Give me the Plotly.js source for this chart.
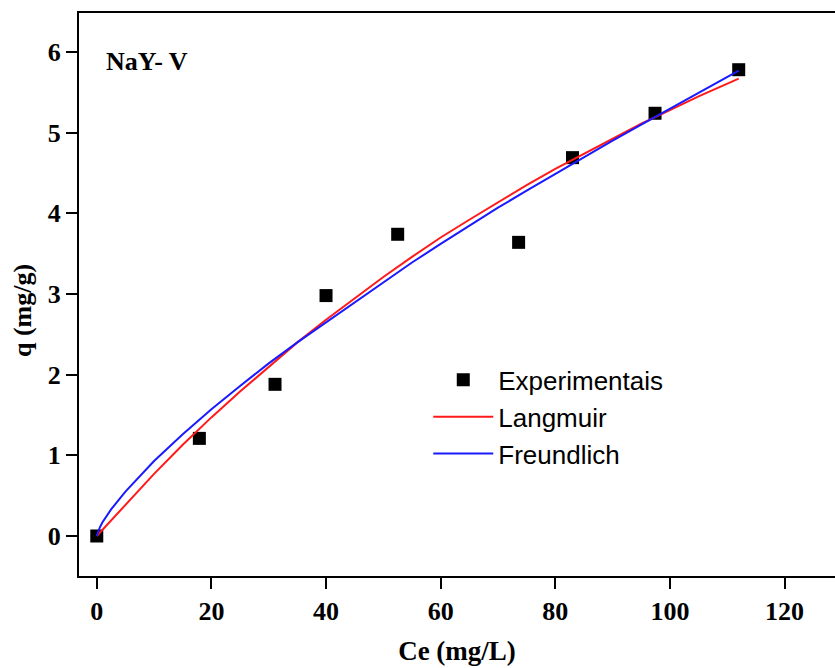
<!DOCTYPE html>
<html>
<head>
<meta charset="utf-8">
<script src="https://cdn.plot.ly/plotly-3.0.1.min.js"></script>
<style>html,body{margin:0;padding:0;background:#fff;}#chart{width:835px;height:668px;}</style>
</head>
<body>
<div id="chart"></div>
<script>
// Experimental points
const expCe = [0, 17.9, 31.1, 40.0, 52.5, 73.6, 83.0, 97.4, 112.0];
const expQ  = [0, 1.21, 1.88, 2.98, 3.74, 3.64, 4.69, 5.24, 5.78];

// Langmuir fitted curve
const langCe = [0, 5, 10, 15, 20, 25, 30, 35, 40, 45, 50, 55, 60, 65, 70, 75, 80, 85, 90, 95, 100, 105, 112];
const langQ  = [0, 0.38, 0.77, 1.13, 1.47, 1.79, 2.10, 2.40, 2.68, 2.95, 3.21, 3.46, 3.70, 3.92, 4.14, 4.35, 4.55, 4.74, 4.93, 5.11, 5.28, 5.45, 5.67];

// Freundlich fitted curve
const freCe = [0, 0.5, 1, 2.5, 5, 10, 15, 20, 25, 30, 35, 40, 45, 50, 55, 60, 65, 70, 75, 80, 85, 90, 95, 100, 105, 112];
const freQ  = [0, 0.10, 0.17, 0.33, 0.55, 0.93, 1.26, 1.57, 1.86, 2.14, 2.40, 2.65, 2.90, 3.15, 3.39, 3.62, 3.85, 4.07, 4.28, 4.49, 4.70, 4.90, 5.10, 5.30, 5.49, 5.77];

const xTicks = [0, 20, 40, 60, 80, 100, 120];
const yTicks = [0, 1, 2, 3, 4, 5, 6];

const serif = 'Liberation Serif, Times New Roman, serif';
const sans = 'Liberation Sans, Arial, sans-serif';

const traces = [
  {x: expCe, y: expQ, mode: 'markers', name: 'Experimentais', marker: {symbol: 'square', size: 13, color: '#000'}},
  {x: langCe, y: langQ, mode: 'lines', name: 'Langmuir', line: {color: '#ff1a1a', width: 2}},
  {x: freCe, y: freQ, mode: 'lines', name: 'Freundlich', line: {color: '#1a1aff', width: 2}}
];

const layout = {
  width: 835, height: 668,
  margin: {l: 79, r: 0, t: 13, b: 92},
  paper_bgcolor: '#fff', plot_bgcolor: '#fff',
  showlegend: true,
  legend: {
    x: 0.462, y: 0.390, xanchor: 'left', yanchor: 'top',
    traceorder: 'normal',
    font: {family: sans, size: 26, color: '#000'},
    bgcolor: 'rgba(0,0,0,0)', itemwidth: 60, tracegroupgap: 0
  },
  xaxis: {
    range: [-3.1, 128.8], tickvals: xTicks, ticktext: xTicks.map(String),
    showgrid: false, zeroline: false,
    showline: true, linecolor: '#000', linewidth: 2, mirror: true,
    ticks: 'outside', ticklen: 11, tickwidth: 2, tickcolor: '#000',
    tickfont: {family: serif, size: 26, color: '#000', weight: 'bold'},
    title: {text: '<b>Ce (mg/L)</b>', font: {family: serif, size: 27, color: '#000'}, standoff: 16}
  },
  yaxis: {
    range: [-0.496, 6.483], tickvals: yTicks, ticktext: yTicks.map(String),
    showgrid: false, zeroline: false,
    showline: true, linecolor: '#000', linewidth: 2, mirror: false,
    ticks: 'outside', ticklen: 11, tickwidth: 2, tickcolor: '#000',
    tickfont: {family: serif, size: 26, color: '#000', weight: 'bold'}
  },
  annotations: [{
    xref: 'paper', yref: 'paper', x: 0.033, y: 0.913, xanchor: 'left', yanchor: 'middle',
    text: '<b>NaY- V</b>', showarrow: false, font: {family: serif, size: 26, color: '#000'}
  }, {
    xref: 'paper', yref: 'paper', x: -0.074, y: 0.4707, xanchor: 'center', yanchor: 'middle',
    textangle: -90, text: '<b>q (mg/g)</b>', showarrow: false, font: {family: serif, size: 26, color: '#000'}
  }]
};

Plotly.newPlot('chart', traces, layout, {displayModeBar: false, staticPlot: true});
</script>
</body>
</html>
